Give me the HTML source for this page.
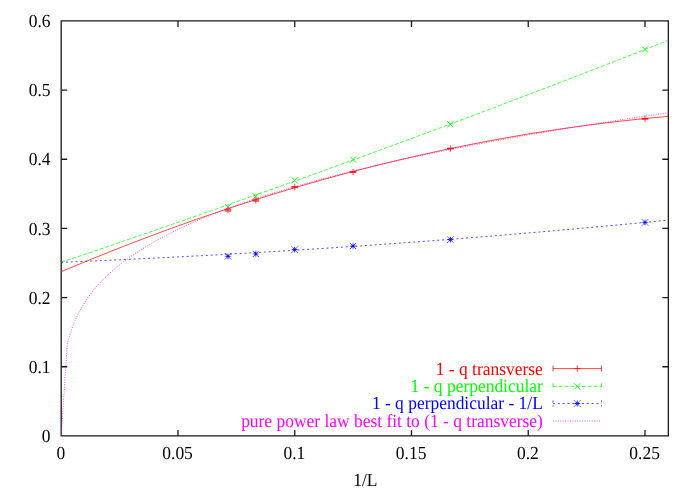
<!DOCTYPE html>
<html><head><meta charset="utf-8"><title>plot</title>
<style>
html,body{margin:0;padding:0;background:#fff;}
svg{display:block;transform:translateZ(0);will-change:transform;}
text{font-family:"Liberation Serif",serif;font-size:17.45px;text-rendering:geometricPrecision;}
</style></head><body>
<svg width="698" height="488" viewBox="0 0 698 488">
<rect width="698" height="488" fill="#fff"/>

<path d="M61.2,20.95 H668.35 V435.9 H61.2 Z" stroke="#1a1a1a" stroke-width="1.3" fill="none" stroke-linejoin="miter"/>
<path d="M61.2,366.74 h6 M668.35,366.74 h-6 M61.2,297.58 h6 M668.35,297.58 h-6 M61.2,228.42 h6 M668.35,228.42 h-6 M61.2,159.27 h6 M668.35,159.27 h-6 M61.2,90.11 h6 M668.35,90.11 h-6 M177.96,435.9 v-6 M177.96,20.95 v6 M294.72,435.9 v-6 M294.72,20.95 v6 M411.48,435.9 v-6 M411.48,20.95 v6 M528.24,435.9 v-6 M528.24,20.95 v6 M645.00,435.9 v-6 M645.00,20.95 v6 " stroke="#1a1a1a" stroke-width="1.3" fill="none"/>
<text transform="translate(50.50,442.00) scale(1,1.06)" text-anchor="end" fill="#000">0</text>
<text transform="translate(50.50,372.84) scale(1,1.06)" text-anchor="end" fill="#000">0.1</text>
<text transform="translate(50.50,303.68) scale(1,1.06)" text-anchor="end" fill="#000">0.2</text>
<text transform="translate(50.50,234.52) scale(1,1.06)" text-anchor="end" fill="#000">0.3</text>
<text transform="translate(50.50,165.37) scale(1,1.06)" text-anchor="end" fill="#000">0.4</text>
<text transform="translate(50.50,96.21) scale(1,1.06)" text-anchor="end" fill="#000">0.5</text>
<text transform="translate(50.50,27.05) scale(1,1.06)" text-anchor="end" fill="#000">0.6</text>
<text transform="translate(60.80,459.20) scale(1,1.06)" text-anchor="middle" fill="#000">0</text>
<text transform="translate(177.56,459.20) scale(1,1.06)" text-anchor="middle" fill="#000">0.05</text>
<text transform="translate(294.32,459.20) scale(1,1.06)" text-anchor="middle" fill="#000">0.1</text>
<text transform="translate(411.08,459.20) scale(1,1.06)" text-anchor="middle" fill="#000">0.15</text>
<text transform="translate(527.84,459.20) scale(1,1.06)" text-anchor="middle" fill="#000">0.2</text>
<text transform="translate(644.60,459.20) scale(1,1.06)" text-anchor="middle" fill="#000">0.25</text>
<text transform="translate(365.28,485.90) scale(1,1.06)" text-anchor="middle" fill="#000">1/L</text>
<path d="M61.20,262.31 L67.33,260.25 L73.47,258.17 L79.60,256.10 L85.73,254.02 L91.86,251.94 L98.00,249.86 L104.13,247.77 L110.26,245.68 L116.40,243.58 L122.53,241.48 L128.66,239.38 L134.79,237.27 L140.93,235.16 L147.06,233.05 L153.19,230.93 L159.33,228.81 L165.46,226.68 L171.59,224.56 L177.72,222.43 L183.86,220.29 L189.99,218.15 L196.12,216.01 L202.26,213.86 L208.39,211.71 L214.52,209.56 L220.65,207.40 L226.79,205.24 L232.92,203.08 L239.05,200.91 L245.18,198.74 L251.32,196.57 L257.45,194.39 L263.58,192.21 L269.72,190.02 L275.85,187.83 L281.98,185.64 L288.11,183.44 L294.25,181.25 L300.38,179.04 L306.51,176.84 L312.65,174.62 L318.78,172.41 L324.91,170.19 L331.04,167.97 L337.18,165.75 L343.31,163.52 L349.44,161.29 L355.58,159.05 L361.71,156.81 L367.84,154.57 L373.97,152.32 L380.11,150.07 L386.24,147.82 L392.37,145.56 L398.51,143.30 L404.64,141.04 L410.77,138.77 L416.90,136.50 L423.04,134.23 L429.17,131.95 L435.30,129.66 L441.44,127.38 L447.57,125.09 L453.70,122.80 L459.83,120.50 L465.97,118.20 L472.10,115.90 L478.23,113.59 L484.37,111.28 L490.50,108.97 L496.63,106.65 L502.76,104.33 L508.90,102.00 L515.03,99.67 L521.16,97.34 L527.29,95.00 L533.43,92.67 L539.56,90.32 L545.69,87.98 L551.83,85.63 L557.96,83.27 L564.09,80.92 L570.22,78.55 L576.36,76.19 L582.49,73.82 L588.62,71.45 L594.76,69.08 L600.89,66.70 L607.02,64.31 L613.15,61.93 L619.29,59.54 L625.42,57.15 L631.55,54.75 L637.69,52.35 L643.82,49.94 L649.95,47.54 L656.08,45.13 L662.22,42.71 L668.35,40.29" stroke="#00ff00" stroke-width="0.72" fill="none" stroke-dasharray="3.87 1.93"/>
<path d="M645.00,49.44 l3.05,3.05 M645.00,49.44 l-3.05,3.05 M645.00,49.44 l3.05,-3.05 M645.00,49.44 l-3.05,-3.05 M450.40,124.34 l3.05,3.05 M450.40,124.34 l-3.05,3.05 M450.40,124.34 l3.05,-3.05 M450.40,124.34 l-3.05,-3.05 M353.10,159.54 l3.05,3.05 M353.10,159.54 l-3.05,3.05 M353.10,159.54 l3.05,-3.05 M353.10,159.54 l-3.05,-3.05 M294.72,180.43 l3.05,3.05 M294.72,180.43 l-3.05,3.05 M294.72,180.43 l3.05,-3.05 M294.72,180.43 l-3.05,-3.05 M255.80,196.34 l3.05,3.05 M255.80,196.34 l-3.05,3.05 M255.80,196.34 l3.05,-3.05 M255.80,196.34 l-3.05,-3.05 M228.00,206.92 l3.05,3.05 M228.00,206.92 l-3.05,3.05 M228.00,206.92 l3.05,-3.05 M228.00,206.92 l-3.05,-3.05 " stroke="#00ff00" stroke-width="0.9" fill="none"/>
<path d="M61.20,271.73 L67.33,269.14 L73.47,266.57 L79.60,264.02 L85.73,261.49 L91.86,258.98 L98.00,256.49 L104.13,254.02 L110.26,251.57 L116.40,249.15 L122.53,246.74 L128.66,244.36 L134.79,242.00 L140.93,239.66 L147.06,237.33 L153.19,235.03 L159.33,232.75 L165.46,230.50 L171.59,228.26 L177.72,226.04 L183.86,223.84 L189.99,221.67 L196.12,219.52 L202.26,217.38 L208.39,215.27 L214.52,213.18 L220.65,211.11 L226.79,209.06 L232.92,207.03 L239.05,205.02 L245.18,203.03 L251.32,201.07 L257.45,199.12 L263.58,197.20 L269.72,195.29 L275.85,193.41 L281.98,191.55 L288.11,189.71 L294.25,187.89 L300.38,186.09 L306.51,184.31 L312.65,182.55 L318.78,180.82 L324.91,179.10 L331.04,177.41 L337.18,175.73 L343.31,174.08 L349.44,172.45 L355.58,170.84 L361.71,169.25 L367.84,167.68 L373.97,166.13 L380.11,164.60 L386.24,163.09 L392.37,161.61 L398.51,160.14 L404.64,158.70 L410.77,157.28 L416.90,155.87 L423.04,154.49 L429.17,153.13 L435.30,151.79 L441.44,150.47 L447.57,149.18 L453.70,147.90 L459.83,146.64 L465.97,145.41 L472.10,144.19 L478.23,143.00 L484.37,141.83 L490.50,140.67 L496.63,139.54 L502.76,138.43 L508.90,137.35 L515.03,136.28 L521.16,135.23 L527.29,134.20 L533.43,133.20 L539.56,132.21 L545.69,131.25 L551.83,130.31 L557.96,129.38 L564.09,128.48 L570.22,127.60 L576.36,126.74 L582.49,125.91 L588.62,125.09 L594.76,124.29 L600.89,123.52 L607.02,122.76 L613.15,122.03 L619.29,121.31 L625.42,120.62 L631.55,119.95 L637.69,119.30 L643.82,118.67 L649.95,118.06 L656.08,117.47 L662.22,116.91 L668.35,116.36" stroke="#ff0000" stroke-width="0.72" fill="none"/>
<path d="M645.00,118.81 l3.30,0.00 M645.00,118.81 l-3.30,0.00 M645.00,118.81 l0.00,3.30 M645.00,118.81 l0.00,-3.30 M645.00,118.41 h3.3 M645.00,118.41 h-3.3 M645.00,119.21 h3.3 M645.00,119.21 h-3.3 M450.40,148.62 l3.30,0.00 M450.40,148.62 l-3.30,0.00 M450.40,148.62 l0.00,3.30 M450.40,148.62 l0.00,-3.30 M450.40,148.22 h3.3 M450.40,148.22 h-3.3 M450.40,149.02 h3.3 M450.40,149.02 h-3.3 M353.10,171.92 l3.30,0.00 M353.10,171.92 l-3.30,0.00 M353.10,171.92 l0.00,3.30 M353.10,171.92 l0.00,-3.30 M353.10,171.42 h3.3 M353.10,171.42 h-3.3 M353.10,172.42 h3.3 M353.10,172.42 h-3.3 M294.72,187.07 l3.30,0.00 M294.72,187.07 l-3.30,0.00 M294.72,187.07 l0.00,3.30 M294.72,187.07 l0.00,-3.30 M294.72,186.47 h3.3 M294.72,186.47 h-3.3 M294.72,187.67 h3.3 M294.72,187.67 h-3.3 M255.80,200.28 l3.30,0.00 M255.80,200.28 l-3.30,0.00 M255.80,200.28 l0.00,3.30 M255.80,200.28 l0.00,-3.30 M255.80,199.28 h3.3 M255.80,199.28 h-3.3 M255.80,201.28 h3.3 M255.80,201.28 h-3.3 M228.00,210.17 l3.30,0.00 M228.00,210.17 l-3.30,0.00 M228.00,210.17 l0.00,3.30 M228.00,210.17 l0.00,-3.30 M228.00,209.17 h3.3 M228.00,209.17 h-3.3 M228.00,211.17 h3.3 M228.00,211.17 h-3.3 " stroke="#ff0000" stroke-width="0.7" fill="none"/>
<path d="M61.20,262.31 L67.33,262.06 L73.47,261.81 L79.60,261.55 L85.73,261.29 L91.86,261.02 L98.00,260.75 L104.13,260.48 L110.26,260.21 L116.40,259.93 L122.53,259.64 L128.66,259.36 L134.79,259.07 L140.93,258.77 L147.06,258.48 L153.19,258.17 L159.33,257.87 L165.46,257.56 L171.59,257.25 L177.72,256.93 L183.86,256.62 L189.99,256.29 L196.12,255.97 L202.26,255.64 L208.39,255.30 L214.52,254.97 L220.65,254.63 L226.79,254.28 L232.92,253.94 L239.05,253.58 L245.18,253.23 L251.32,252.87 L257.45,252.51 L263.58,252.14 L269.72,251.78 L275.85,251.40 L281.98,251.03 L288.11,250.65 L294.25,250.26 L300.38,249.88 L306.51,249.49 L312.65,249.09 L318.78,248.69 L324.91,248.29 L331.04,247.89 L337.18,247.48 L343.31,247.07 L349.44,246.65 L355.58,246.23 L361.71,245.81 L367.84,245.38 L373.97,244.95 L380.11,244.52 L386.24,244.08 L392.37,243.64 L398.51,243.20 L404.64,242.75 L410.77,242.30 L416.90,241.84 L423.04,241.39 L429.17,240.92 L435.30,240.46 L441.44,239.99 L447.57,239.52 L453.70,239.04 L459.83,238.56 L465.97,238.08 L472.10,237.59 L478.23,237.10 L484.37,236.60 L490.50,236.11 L496.63,235.60 L502.76,235.10 L508.90,234.59 L515.03,234.08 L521.16,233.56 L527.29,233.04 L533.43,232.52 L539.56,231.99 L545.69,231.46 L551.83,230.93 L557.96,230.39 L564.09,229.85 L570.22,229.31 L576.36,228.76 L582.49,228.21 L588.62,227.65 L594.76,227.09 L600.89,226.53 L607.02,225.96 L613.15,225.39 L619.29,224.82 L625.42,224.24 L631.55,223.66 L637.69,223.08 L643.82,222.49 L649.95,221.90 L656.08,221.31 L662.22,220.71 L668.35,220.11" stroke="#0000ff" stroke-width="0.72" fill="none" stroke-dasharray="1.93 2.9"/>
<path d="M645.00,222.41 l3.30,0.00 M645.00,222.41 l-3.30,0.00 M645.00,222.41 l0.00,3.30 M645.00,222.41 l0.00,-3.30 M645.00,222.41 l3.10,3.10 M645.00,222.41 l-3.10,3.10 M645.00,222.41 l3.10,-3.10 M645.00,222.41 l-3.10,-3.10 M450.40,239.63 l3.30,0.00 M450.40,239.63 l-3.30,0.00 M450.40,239.63 l0.00,3.30 M450.40,239.63 l0.00,-3.30 M450.40,239.63 l3.10,3.10 M450.40,239.63 l-3.10,3.10 M450.40,239.63 l3.10,-3.10 M450.40,239.63 l-3.10,-3.10 M353.10,245.99 l3.30,0.00 M353.10,245.99 l-3.30,0.00 M353.10,245.99 l0.00,3.30 M353.10,245.99 l0.00,-3.30 M353.10,245.99 l3.10,3.10 M353.10,245.99 l-3.10,3.10 M353.10,245.99 l3.10,-3.10 M353.10,245.99 l-3.10,-3.10 M294.72,249.59 l3.30,0.00 M294.72,249.59 l-3.30,0.00 M294.72,249.59 l0.00,3.30 M294.72,249.59 l0.00,-3.30 M294.72,249.59 l3.10,3.10 M294.72,249.59 l-3.10,3.10 M294.72,249.59 l3.10,-3.10 M294.72,249.59 l-3.10,-3.10 M255.80,253.94 l3.30,0.00 M255.80,253.94 l-3.30,0.00 M255.80,253.94 l0.00,3.30 M255.80,253.94 l0.00,-3.30 M255.80,253.94 l3.10,3.10 M255.80,253.94 l-3.10,3.10 M255.80,253.94 l3.10,-3.10 M255.80,253.94 l-3.10,-3.10 M228.00,256.30 l3.30,0.00 M228.00,256.30 l-3.30,0.00 M228.00,256.30 l0.00,3.30 M228.00,256.30 l0.00,-3.30 M228.00,256.30 l3.10,3.10 M228.00,256.30 l-3.10,3.10 M228.00,256.30 l3.10,-3.10 M228.00,256.30 l-3.10,-3.10 " stroke="#0000ff" stroke-width="0.9" fill="none" stroke-dasharray="2.6 0.5 2"/>
<path d="M61.20,435.90 L67.33,343.13 L73.47,323.91 L79.60,310.88 L85.73,300.72 L91.86,292.27 L98.00,284.98 L104.13,278.53 L110.26,272.71 L116.40,267.41 L122.53,262.52 L128.66,257.97 L134.79,253.72 L140.93,249.71 L147.06,245.93 L153.19,242.33 L159.33,238.91 L165.46,235.64 L171.59,232.51 L177.72,229.50 L183.86,226.60 L189.99,223.81 L196.12,221.11 L202.26,218.51 L208.39,215.98 L214.52,213.53 L220.65,211.14 L226.79,208.83 L232.92,206.57 L239.05,204.38 L245.18,202.24 L251.32,200.15 L257.45,198.11 L263.58,196.11 L269.72,194.16 L275.85,192.25 L281.98,190.38 L288.11,188.54 L294.25,186.74 L300.38,184.98 L306.51,183.25 L312.65,181.55 L318.78,179.88 L324.91,178.24 L331.04,176.62 L337.18,175.03 L343.31,173.47 L349.44,171.94 L355.58,170.42 L361.71,168.93 L367.84,167.46 L373.97,166.01 L380.11,164.59 L386.24,163.18 L392.37,161.79 L398.51,160.42 L404.64,159.07 L410.77,157.74 L416.90,156.42 L423.04,155.12 L429.17,153.84 L435.30,152.57 L441.44,151.31 L447.57,150.07 L453.70,148.85 L459.83,147.64 L465.97,146.44 L472.10,145.25 L478.23,144.08 L484.37,142.92 L490.50,141.78 L496.63,140.64 L502.76,139.52 L508.90,138.40 L515.03,137.30 L521.16,136.21 L527.29,135.13 L533.43,134.06 L539.56,133.00 L545.69,131.95 L551.83,130.91 L557.96,129.88 L564.09,128.86 L570.22,127.85 L576.36,126.84 L582.49,125.85 L588.62,124.86 L594.76,123.88 L600.89,122.91 L607.02,121.95 L613.15,121.00 L619.29,120.05 L625.42,119.11 L631.55,118.18 L637.69,117.26 L643.82,116.34 L649.95,115.43 L656.08,114.53 L662.22,113.63 L668.35,112.74" stroke="#ff00ff" stroke-width="0.72" fill="none" stroke-dasharray="0.97 1.45"/>
<text transform="translate(542.80,374.50) scale(1,1.06)" text-anchor="end" fill="#ff0000">1 - q transverse</text>
<path d="M553.0,368.6 H601.5" stroke="#ff0000" stroke-width="0.72" fill="none"/>
<path d="M553.0,365.6 v6.0 M601.5,365.6 v6.0" stroke="#ff0000" stroke-width="0.72" fill="none"/>
<path d="M577.20,368.60 l3.30,0.00 M577.20,368.60 l-3.30,0.00 M577.20,368.60 l0.00,3.30 M577.20,368.60 l0.00,-3.30 " stroke="#ff0000" stroke-width="0.72" fill="none" />
<text transform="translate(542.80,392.25) scale(1,1.06)" text-anchor="end" fill="#00ff00">1 - q perpendicular</text>
<path d="M553.0,386.35 H601.5" stroke="#00ff00" stroke-width="0.72" fill="none" stroke-dasharray="3.87 1.93"/>
<path d="M553.0,383.35 v6.0 M601.5,383.35 v6.0" stroke="#00ff00" stroke-width="0.72" fill="none" stroke-dasharray="3.87 1.93"/>
<path d="M577.20,386.35 l3.05,3.05 M577.20,386.35 l-3.05,3.05 M577.20,386.35 l3.05,-3.05 M577.20,386.35 l-3.05,-3.05 " stroke="#00ff00" stroke-width="0.9" fill="none" />
<text transform="translate(542.80,409.40) scale(1,1.06)" text-anchor="end" fill="#0000ff">1 - q perpendicular - 1/L</text>
<path d="M553.0,403.5 H601.5" stroke="#0000ff" stroke-width="0.72" fill="none" stroke-dasharray="1.93 2.9"/>
<path d="M553.0,400.5 v6.0 M601.5,400.5 v6.0" stroke="#0000ff" stroke-width="0.72" fill="none" stroke-dasharray="1.93 2.9"/>
<path d="M577.20,403.50 l3.30,0.00 M577.20,403.50 l-3.30,0.00 M577.20,403.50 l0.00,3.30 M577.20,403.50 l0.00,-3.30 M577.20,403.50 l3.10,3.10 M577.20,403.50 l-3.10,3.10 M577.20,403.50 l3.10,-3.10 M577.20,403.50 l-3.10,-3.10 " stroke="#0000ff" stroke-width="0.9" fill="none" stroke-dasharray="2.6 0.5 2"/>
<text transform="translate(542.80,426.90) scale(1,1.06)" text-anchor="end" fill="#ff00ff">pure power law best fit to (1 - q transverse)</text>
<path d="M553.0,421.0 H601.5" stroke="#ff00ff" stroke-width="0.72" fill="none" stroke-dasharray="0.97 1.45"/>
</svg></body></html>
